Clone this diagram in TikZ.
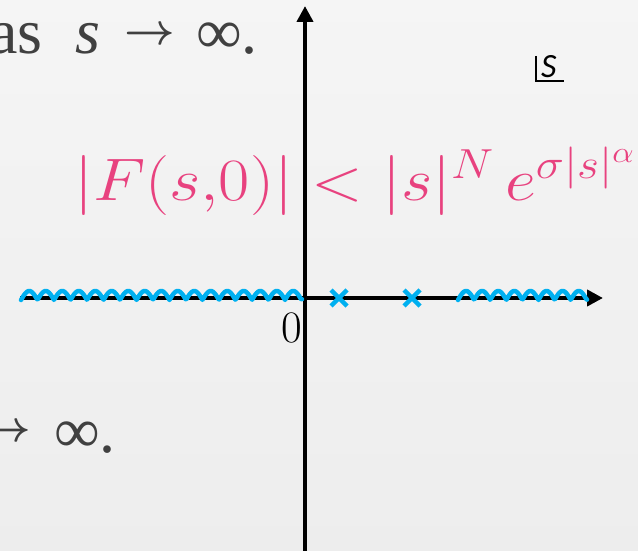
\documentclass[tikz,border=0pt]{standalone}
\usepackage{fix-cm}
\usepackage{fontspec}
\setmainfont{Liberation Serif}
\newfontfamily\labelfont{Carlito}
\usetikzlibrary{arrows.meta}
\definecolor{wavecol}{HTML}{00B0F0}
\definecolor{pinkcol}{HTML}{E8427F}
\definecolor{txtgray}{HTML}{404040}
\begin{document}
\begin{tikzpicture}[x=1pt,y=-1pt,
  axis/.style={line width=4.5pt,-{Triangle[length=16pt,width=16pt]}},
  branchcut/.style={wavecol,line width=4.5pt,line cap=round,line join=round},
  pole/.style={wavecol,line width=4.5pt},
  graytext/.style={txtgray,font=\fontsize{64}{70}\selectfont,inner sep=0pt,anchor=base west},
  arrowtext/.style={txtgray,font=\fontsize{44}{48}\selectfont\boldmath,inner sep=0pt},
  formula/.style={pinkcol,font=\fontsize{60}{66}\selectfont,inner sep=0pt,anchor=base west}]
\useasboundingbox (0,0) rectangle (638,551);
\clip (0,0) rectangle (638,551);
\shade[top color=black!4,bottom color=black!7] (0,0) rectangle (638,551);
% axes
\coordinate (xl) at (20,298);
\coordinate (xr) at (603,298);
\coordinate (yb) at (305,552);
\coordinate (yt) at (305,6);
\draw[axis] (xl) -- (xr);
\draw[axis] (yb) -- (yt);
% branch cuts
\draw[branchcut] plot[domain=21:302,samples=300] (\x,{300-9*abs(sin(10.909*(\x-21)))});
\draw[branchcut] plot[domain=458:587,samples=150] (\x,{300-9*abs(sin(11.18*(\x-458)))});
% poles
\foreach \n/\px in {p1/339,p2/412}{
  \coordinate (\n) at (\px,298);
  \draw[pole] ([shift={(-8,-8)}]\n) -- ([shift={(8,8)}]\n);
  \draw[pole] ([shift={(-8,8)}]\n) -- ([shift={(8,-8)}]\n);
}
% origin label
\node[font=\fontsize{45}{50}\selectfont,inner sep=0pt,anchor=base east] (zero) at (302,342) {\fontspec{Latin Modern Roman}0};
% gray texts
\node[graytext] (as) at (-11,54) {as};
\node[graytext] (s) at (75,54) {\textit{s}};
\node[arrowtext,anchor=west] (arr) at (124,36) {$\rightarrow$};
\node[graytext] (inf) at (196,54) {∞.};
\node[arrowtext,anchor=east] (arr2) at (31,433) {$\rightarrow$};
\node[graytext] (inf2) at (54,452) {∞.};
% formula
\node[formula] (f) at (74,200) {\scalebox{1.13}[1]{$|F(s{,}0)|<|s|^{N}\mkern3mu e^{\sigma|s|^{\alpha}}$}};
% plane label
\node[font=\fontsize{34}{38}\selectfont\labelfont\itshape,inner sep=0pt,anchor=base west] (lab) at (541,78) {S};
\coordinate (l1) at (536,56);
\coordinate (l2) at (536,81);
\coordinate (l3) at (564,81);
\draw[line width=1.6pt] (l1) -- (l2) -- (l3);
\end{tikzpicture}
\end{document}
